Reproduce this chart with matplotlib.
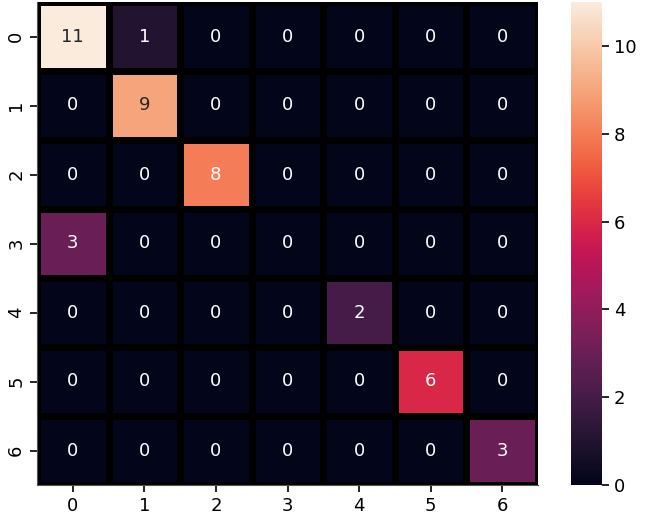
import matplotlib

matplotlib.use("Agg")
import matplotlib.pyplot as plt  # noqa: E402
import numpy as np  # noqa: E402
import seaborn as sns  # noqa: E402

labels = ["0", "1", "2", "3", "4", "5", "6"]
row_0 = [11, 1, 0, 0, 0, 0, 0]
row_1 = [0, 9, 0, 0, 0, 0, 0]
row_2 = [0, 0, 8, 0, 0, 0, 0]
row_3 = [3, 0, 0, 0, 0, 0, 0]
row_4 = [0, 0, 0, 0, 2, 0, 0]
row_5 = [0, 0, 0, 0, 0, 6, 0]
row_6 = [0, 0, 0, 0, 0, 0, 3]

cm = np.array([row_0, row_1, row_2, row_3, row_4, row_5, row_6])

fig = plt.figure(figsize=(6.45, 5.14), dpi=100)
ax = fig.add_axes([37 / 645, 1 - 485 / 514, 501 / 645, 483 / 514])
cax = fig.add_axes([571 / 645, 1 - 485 / 514, 31 / 645, 483 / 514])

sns.heatmap(
    cm,
    annot=True,
    fmt="d",
    linewidths=5,
    linecolor="black",
    xticklabels=labels,
    yticklabels=labels,
    ax=ax,
    cbar_ax=cax,
    annot_kws={"fontsize": 13},
)
ax.tick_params(labelsize=13, length=5, width=1.2)
cax.tick_params(labelsize=13, length=5, width=1.2)
for side in ("left", "bottom"):
    ax.spines[side].set_visible(True)
    ax.spines[side].set_color("#555555")

fig.savefig("out.png", dpi=100)
